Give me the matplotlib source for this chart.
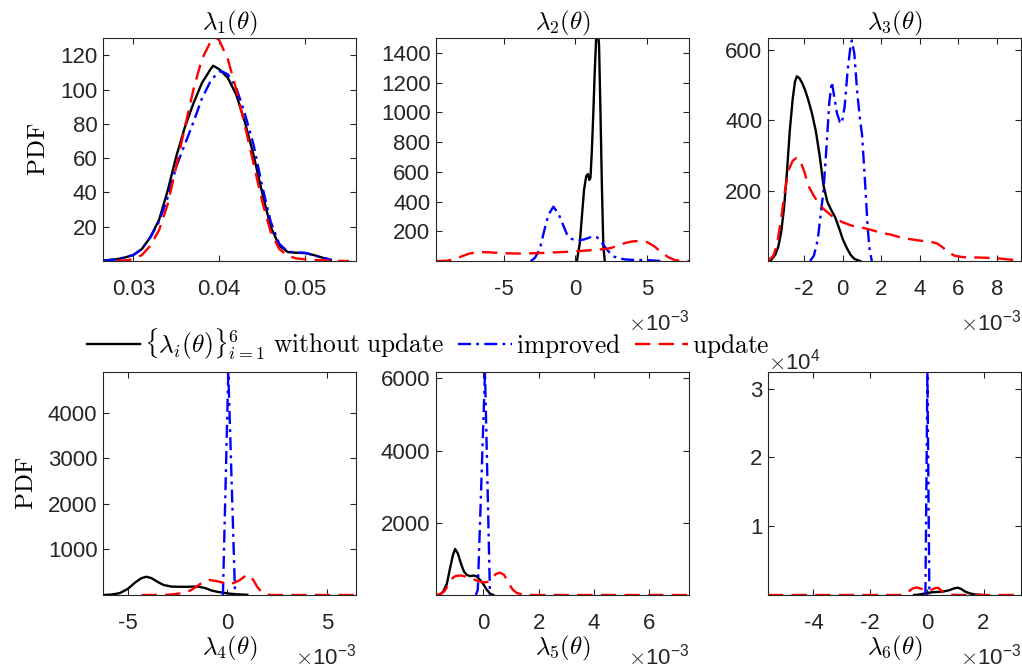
#!/usr/bin/env python3
# -*- coding: utf-8 -*-
"""
PDF de los seis autovalores lambda_i(theta): sin actualizacion, mejorado y actualizado.
Los valores de x de lambda_2 ... lambda_6 se guardan en unidades de 1e-3.
"""
import numpy as np
import matplotlib
matplotlib.use("Agg")
import matplotlib.pyplot as plt

# ------------------------------------------------------------------
# lambda_1 (x en unidades reales)
lam1_x_base = [0.0265, 0.028, 0.029, 0.030, 0.031, 0.032, 0.033, 0.034, 0.035, 0.036, 0.037, 0.038, 0.039,
               0.0393, 0.040, 0.041, 0.042, 0.043, 0.044, 0.045, 0.046, 0.047, 0.048, 0.049, 0.050, 0.051, 0.052, 0.053]
lam1_base = [0.2, 1.0, 2, 3.5, 7, 14, 24, 41, 61, 78, 92, 104, 112,
             114, 112, 107, 97, 81, 62, 40, 20, 9, 5.2, 4.8, 4.6, 3.5, 2, 0.7]
lam1_x_impr = [0.0265, 0.028, 0.029, 0.030, 0.031, 0.032, 0.033, 0.034, 0.035, 0.036, 0.037, 0.038, 0.039,
               0.0395, 0.0402, 0.041, 0.042, 0.043, 0.044, 0.045, 0.046, 0.047, 0.048, 0.049, 0.050, 0.051, 0.052, 0.053]
lam1_impr = [0.2, 1.0, 2, 3.5, 7, 14, 23, 37, 55, 68, 81, 95, 105,
             108, 111, 109, 101, 86, 68, 44, 23, 10, 5.5, 5, 4.8, 3.5, 2, 0.7]
lam1_x_upd = [0.028, 0.029, 0.030, 0.031, 0.032, 0.033, 0.034, 0.035, 0.036, 0.037, 0.038, 0.039, 0.0397,
              0.040, 0.041, 0.042, 0.043, 0.044, 0.045, 0.046, 0.047, 0.048, 0.049, 0.050, 0.051, 0.052,
              0.053, 0.054, 0.0551]
lam1_upd = [0, 0.3, 1, 3.5, 9, 18, 33, 55, 78, 100, 118, 128, 130,
            129, 118, 100, 79, 57, 35, 17, 7, 3, 1.5, 1, 0.7, 0.4, 0.2, 0.1, 0]

# lambda_2 (x * 1e-3)
lam2_x_base = [0.1, 0.3, 0.45, 0.6, 0.75, 0.87, 0.97, 1.05, 1.15, 1.25, 1.35, 1.45, 1.55, 1.65, 1.75, 1.85,
               1.95, 2.05]
lam2_base = [0, 120, 300, 480, 570, 585, 545, 560, 750, 1000, 1280, 1500, 1580, 1450, 1000, 500, 100, 0]
lam2_x_impr = [-3.14, -2.85, -2.5, -2.2, -1.9, -1.55, -1.2, -0.9, -0.6, -0.3, 0.0, 0.3, 0.6, 0.9, 1.2, 1.5,
               1.8, 2.1, 2.4, 2.7, 3.0, 3.5, 4.0, 4.5, 5.0, 5.5, 6.0]
lam2_impr = [0, 20, 80, 200, 310, 365, 320, 250, 180, 150, 140, 140, 145, 155, 165, 160,
             130, 90, 55, 30, 18, 10, 8, 7, 6, 3, 0]
lam2_x_upd = [-9.77, -9.0, -8.5, -8.0, -7.5, -7.0, -6.5, -6.0, -5.0, -4.0, -3.0, -2.0, -1.0, 0.0, 1.0, 1.5,
              2.0, 2.5, 3.0, 3.5, 4.0, 4.5, 5.0, 5.5, 6.0, 6.5, 7.0, 7.95]
lam2_upd = [0, 2, 12, 30, 48, 58, 60, 58, 52, 50, 52, 55, 60, 65, 72, 76,
            80, 88, 105, 122, 132, 135, 128, 100, 60, 25, 5, 0]

# lambda_3 (x * 1e-3)
lam3_x_base = [-3.88, -3.7, -3.5, -3.35, -3.2, -3.05, -2.9, -2.75, -2.6, -2.48, -2.38, -2.25, -2.1, -1.95,
               -1.8, -1.6, -1.4, -1.2, -1.0, -0.8, -0.6, -0.4, -0.2, 0.0, 0.2, 0.4, 0.6, 0.9]
lam3_base = [0, 4, 18, 40, 80, 150, 250, 370, 460, 510, 525, 520, 505, 485,
             460, 420, 370, 300, 215, 168, 145, 125, 95, 62, 38, 18, 6, 0]
lam3_x_impr = [-1.7, -1.5, -1.3, -1.15, -1.0, -0.85, -0.7, -0.57, -0.45, -0.3, -0.15, -0.05, 0.1, 0.25,
               0.4, 0.47, 0.6, 0.75, 0.9, 1.0, 1.15, 1.3, 1.4, 1.51]
lam3_impr = [0, 15, 60, 130, 200, 320, 450, 509, 470, 420, 395, 391, 440, 540,
             610, 627, 590, 480, 400, 360, 230, 90, 30, 0]
lam3_x_upd = [-3.88, -3.6, -3.4, -3.2, -3.0, -2.8, -2.6, -2.4, -2.25, -2.0, -1.8, -1.5, -1.2, -1.0, -0.5,
              0.0, 0.5, 1.0, 1.5, 2.0, 2.5, 3.0, 3.5, 4.0, 4.5, 4.9, 5.2, 5.5, 5.8, 6.1, 6.5, 7.0, 7.5,
              8.0, 8.5, 9.0, 9.25]
lam3_upd = [0, 15, 50, 120, 200, 260, 285, 293, 290, 255, 215, 185, 160, 148, 125,
            110, 100, 95, 88, 80, 75, 67, 62, 58, 55, 50, 38, 25, 15, 12, 10, 10, 9,
            8, 5, 2, 0]

# lambda_4 (x * 1e-3)
lam4_x_base = [-6.23, -5.8, -5.4, -5.0, -4.6, -4.3, -4.05, -3.8, -3.5, -3.2, -2.8, -2.4, -2.0, -1.7, -1.4,
               -1.1, -0.8, -0.5, -0.2, 0.1, 0.5, 1.0]
lam4_base = [0, 10, 40, 130, 280, 370, 400, 370, 290, 220, 185, 180, 180, 185, 180,
             150, 100, 70, 50, 30, 15, 5]
lam4_x_impr = [-0.22, 0.05, 0.39]
lam4_impr = [0, 4890, 0]
lam4_x_upd = [-4.3, -3.0, -2.2, -1.8, -1.5, -1.2, -0.9, -0.6, -0.3, 0.0, 0.3, 0.6, 0.85, 1.0, 1.15, 1.3,
              1.5, 1.7, 1.9, 2.2, 6.45]
lam4_upd = [0, 5, 40, 110, 200, 290, 330, 310, 280, 250, 260, 320, 400, 440, 420, 330,
            180, 70, 15, 0, 0]

# lambda_5 (x * 1e-3)
lam5_x_base = [-1.57, -1.45, -1.32, -1.2, -1.1, -1.02, -0.92, -0.8, -0.7, -0.6, -0.48, -0.36, -0.24, -0.12,
               0.0, 0.12, 0.24, 0.36]
lam5_base = [0, 100, 300, 750, 1100, 1275, 1150, 850, 650, 560, 520, 540, 520, 420,
             300, 150, 40, 0]
lam5_x_impr = [-0.27, -0.2, 0.06, 0.24]
lam5_impr = [0, 150, 6177, 0]
lam5_x_upd = [-1.71, -1.55, -1.41, -1.25, -1.1, -0.99, -0.8, -0.6, -0.45, -0.3, -0.15, 0.0, 0.15, 0.3,
              0.45, 0.6, 0.75, 0.9, 1.05, 1.2, 1.4, 1.7, 7.43]
lam5_upd = [0, 30, 100, 300, 480, 530, 540, 500, 470, 420, 380, 350, 360, 450,
            580, 620, 560, 350, 160, 60, 15, 0, 0]

# lambda_6 (x * 1e-3)
lam6_x_base = [-0.45, -0.3, -0.1, 0.0, 0.2, 0.4, 0.6, 0.8, 0.95, 1.09, 1.2, 1.35, 1.5, 1.7, 1.97]
lam6_base = [0, 50, 200, 300, 400, 450, 520, 700, 950, 1060, 900, 500, 250, 80, 0]
lam6_x_impr = [-0.05, 0.02, 0.09]
lam6_impr = [0, 32400, 0]
lam6_x_upd = [-5.6, -1.0, -0.8, -0.65, -0.5, -0.35, -0.2, 0.0, 0.15, 0.3, 0.4, 0.5, 0.6, 0.75, 0.9, 1.1,
              3.32]
lam6_upd = [0, 0, 50, 500, 950, 1100, 900, 600, 750, 1000, 1050, 700, 250, 100, 40, 0, 0]

# limites y ticks de cada panel (x de los paneles 2..6 en 1e-3)
x_limits = [(0.02647, 0.05594), (-9.77, 7.95), (-3.88, 9.25), (-6.23, 6.45), (-1.71, 7.43), (-5.6, 3.32)]
y_limits = [(0, 130.2), (0, 1500), (0, 634), (0, 4890), (0, 6177), (0, 32400)]
x_ticks = [[0.03, 0.04, 0.05], [-5, 0, 5], [-2, 0, 2, 4, 6, 8], [-5, 0, 5], [0, 2, 4, 6], [-4, -2, 0, 2]]
y_ticks = [[20, 40, 60, 80, 100, 120], [200, 400, 600, 800, 1000, 1200, 1400], [200, 400, 600],
           [1000, 2000, 3000, 4000], [2000, 4000, 6000], [10000, 20000, 30000]]

legend_labels = [r"$\{\lambda_i(\theta)\}_{i=1}^{6}\ \mathrm{without\ update}$",
                 r"$\mathrm{improved}$", r"$\mathrm{update}$"]

# ------------------------------------------------------------------
plt.rcParams["font.family"] = ["Liberation Sans", "DejaVu Sans"]
plt.rcParams["mathtext.fontset"] = "cm"
plt.rcParams["axes.unicode_minus"] = False

GREY = "#262626"
LW = 1.7
TICK_FS = 16
LABEL_FS = 18

panels = [
    (lam1_x_base, lam1_base, lam1_x_impr, lam1_impr, lam1_x_upd, lam1_upd),
    (lam2_x_base, lam2_base, lam2_x_impr, lam2_impr, lam2_x_upd, lam2_upd),
    (lam3_x_base, lam3_base, lam3_x_impr, lam3_impr, lam3_x_upd, lam3_upd),
    (lam4_x_base, lam4_base, lam4_x_impr, lam4_impr, lam4_x_upd, lam4_upd),
    (lam5_x_base, lam5_base, lam5_x_impr, lam5_impr, lam5_x_upd, lam5_upd),
    (lam6_x_base, lam6_base, lam6_x_impr, lam6_impr, lam6_x_upd, lam6_upd),
]

fig = plt.figure(figsize=(10.22, 6.70), dpi=100)
W, H = 1022.0, 670.0
lefts = [103, 436, 768]
tops = [38, 372]
ax_w, ax_h = 253, 223

handles = None
for k, (xb, yb, xi, yi, xu, yu) in enumerate(panels):
    row, col = divmod(k, 3)
    ax = fig.add_axes([lefts[col] / W, 1 - (tops[row] + ax_h) / H, ax_w / W, ax_h / H])
    scale = 1.0 if k == 0 else 1e-3
    hb, = ax.plot(np.array(xb) * scale, yb, color="black", lw=LW)
    hi, = ax.plot(np.array(xi) * scale, yi, color="#0000ff", lw=LW, dashes=(5.5, 2.2, 1.2, 2.2))
    hu, = ax.plot(np.array(xu) * scale, yu, color="#ff0000", lw=LW, dashes=(6.5, 3.5))
    if handles is None:
        handles = [hb, hi, hu]

    ax.set_xlim(x_limits[k][0] * scale, x_limits[k][1] * scale)
    ax.set_ylim(*y_limits[k])
    ax.set_xticks(np.array(x_ticks[k]) * scale)
    ax.set_yticks(y_ticks[k])
    ax.tick_params(direction="in", length=4, width=0.8, top=True, right=True,
                   labelsize=TICK_FS, color=GREY, labelcolor=GREY)
    ax.tick_params(axis="x", pad=13)
    ax.tick_params(axis="y", pad=4)
    for sp in ax.spines.values():
        sp.set_color(GREY)
        sp.set_linewidth(0.8)

    if k > 0:
        ax.ticklabel_format(axis="x", style="sci", scilimits=(-3, -3))
        ax.xaxis.get_offset_text().set_visible(False)
        ax.text(1.0, -0.31, r"$\times\mathdefault{10^{-3}}$", transform=ax.transAxes,
                ha="right", va="baseline", fontsize=TICK_FS, color=GREY)
    if k == 5:
        ax.ticklabel_format(axis="y", style="sci", scilimits=(4, 4))
        ax.yaxis.get_offset_text().set_visible(False)
        ax.text(0.0, 1.012, r"$\times\mathdefault{10^{4}}$", transform=ax.transAxes,
                ha="left", va="baseline", fontsize=TICK_FS, color=GREY)

    name = r"$\lambda_{%d}(\theta)$" % (k + 1)
    if row == 0:
        ax.set_title(name, fontsize=LABEL_FS, pad=6)
    else:
        ax.set_xlabel(name, fontsize=LABEL_FS, labelpad=0)
    if col == 0:
        ax.set_ylabel(r"$\mathrm{PDF}$", fontsize=LABEL_FS, labelpad=7)

fig.legend(handles, legend_labels, loc="center", bbox_to_anchor=(0.419, 0.487), ncol=3,
           frameon=False, fontsize=18.3, handlelength=2.1, handletextpad=0.15, columnspacing=0.55,
           borderpad=0.0)

fig.savefig("out.png", dpi=100)
plt.close(fig)
